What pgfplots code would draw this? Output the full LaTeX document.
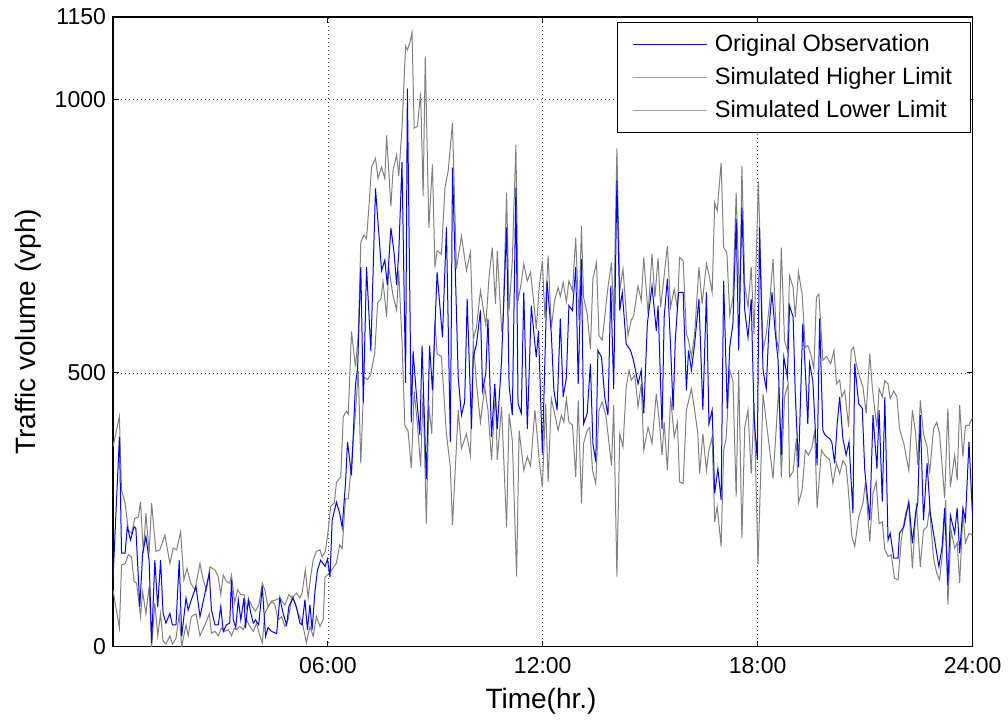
\documentclass[border=0pt]{standalone}
\usepackage{fontspec}
\setmainfont{Liberation Sans}
\usepackage{pgfplots}
\usepackage{pgfplotstable}
\pgfplotsset{compat=1.18}

\pgfplotstableread{
t v
0 122
0.18 383
0.24 171
0.34 171
0.40 219
0.49 195
0.59 219
0.64 216
0.75 73
0.83 171
0.92 201
1.01 158
1.08 7
1.17 158
1.25 73
1.33 158
1.40 61
1.48 43
1.59 61
1.66 40
1.76 40
1.85 158
1.92 19
2.04 89
2.10 67
2.19 86
2.32 110
2.43 55
2.57 98
2.69 134
2.75 67
2.85 40
2.94 40
3.01 73
3.08 28
3.17 40
3.26 43
3.31 122
3.36 49
3.43 35
3.50 86
3.57 49
3.66 89
3.70 34
3.78 86
3.85 61
3.92 43
3.98 49
4.07 40
4.17 110
4.26 19
4.33 35
4.43 28
4.57 24
4.66 89
4.75 61
4.85 40
4.91 73
5.03 89
5.12 73
5.22 43
5.28 40
5.36 86
5.43 31
5.50 77
5.56 31
5.64 101
5.71 140
5.80 158
5.92 147
5.99 160
6.06 127
6.12 231
6.24 264
6.33 244
6.40 218
6.49 296
6.55 374
6.66 313
6.77 478
6.83 508
6.92 693
6.99 446
7.08 693
7.20 540
7.33 837
7.50 687
7.59 706
7.66 661
7.76 765
7.85 719
7.92 661
7.98 719
8.07 885
8.17 482
8.22 1019
8.33 410
8.38 540
8.47 462
8.57 387
8.63 550
8.75 306
8.84 550
8.92 468
9.05 684
9.20 565
9.31 766
9.42 374
9.48 875
9.64 492
9.73 423
9.82 447
9.89 635
10.01 398
10.06 529
10.15 553
10.26 614
10.32 468
10.41 499
10.47 599
10.57 383
10.66 480
10.73 398
10.85 523
10.99 766
11.06 477
11.15 423
11.25 838
11.31 444
11.40 426
11.47 647
11.57 398
11.68 623
11.78 553
11.82 529
11.88 577
11.99 353
12.12 668
12.24 571
12.31 468
12.40 432
12.49 599
12.57 456
12.66 492
12.73 623
12.83 614
12.92 693
12.99 480
13.08 708
13.14 407
13.24 426
13.33 517
13.40 371
13.48 338
13.54 541
13.64 529
13.73 456
13.82 423
13.90 659
13.98 471
14.07 851
14.15 614
14.22 647
14.33 553
14.45 541
14.52 526
14.59 505
14.66 480
14.75 505
14.82 426
14.92 590
15.05 659
15.17 577
15.22 623
15.33 398
15.39 602
15.48 672
15.57 547
15.64 432
15.70 560
15.79 647
15.92 647
16.01 468
16.07 541
16.15 505
16.24 553
16.36 635
16.47 432
16.57 647
16.64 407
16.73 432
16.80 280
16.89 325
16.98 268
17.05 668
17.15 435
17.22 547
17.31 590
17.40 781
17.47 541
17.56 802
17.64 614
17.73 565
17.82 635
17.90 420
17.99 341
18.05 766
18.15 505
18.24 471
18.31 577
18.40 647
18.49 574
18.57 523
18.66 350
18.73 529
18.83 492
18.89 623
18.99 602
19.05 462
19.14 328
19.26 590
19.33 505
19.40 407
19.45 517
19.54 486
19.66 331
19.73 599
19.82 395
19.89 386
20.01 380
20.07 374
20.15 335
20.22 407
20.29 456
20.38 380
20.47 350
20.55 374
20.66 244
20.71 517
20.82 444
20.92 435
20.99 322
21.13 231
21.22 423
21.33 325
21.39 432
21.48 265
21.55 456
21.64 195
21.70 207
21.80 162
21.92 162
21.96 207
22.08 219
22.22 265
22.32 189
22.41 244
22.47 262
22.54 423
22.63 231
22.73 335
22.82 244
22.94 195
23.06 146
23.15 183
23.22 253
23.31 113
23.38 240
23.50 207
23.57 253
23.64 171
23.73 253
23.80 231
23.90 374
24.00 237
}\obs

\pgfplotstableread{
t v
0 365
0.18 420
0.24 286
0.34 262
0.43 213
0.52 207
0.61 234
0.71 237
0.77 265
0.85 171
0.92 244
1.01 171
1.08 262
1.20 174
1.31 177
1.45 204
1.59 152
1.68 180
1.78 177
1.89 210
1.98 122
2.07 143
2.17 116
2.29 104
2.43 152
2.52 122
2.61 104
2.71 146
2.85 140
2.94 128
3.01 95
3.08 131
3.17 119
3.26 116
3.31 131
3.40 80
3.48 104
3.57 95
3.66 95
3.73 70
3.82 83
3.89 73
3.98 65
4.07 76
4.17 116
4.24 104
4.33 73
4.43 83
4.57 86
4.66 89
4.80 76
4.91 95
5.00 89
5.12 98
5.22 89
5.28 98
5.37 140
5.45 89
5.52 128
5.59 158
5.68 174
5.78 177
5.84 164
5.93 174
6.01 213
6.08 257
6.18 262
6.24 300
6.36 310
6.43 420
6.52 430
6.57 425
6.66 576
6.77 511
6.85 570
6.92 739
7.01 752
7.08 745
7.14 797
7.22 876
7.33 892
7.40 855
7.50 876
7.59 855
7.64 934
7.76 804
7.82 870
7.92 898
7.98 860
8.07 947
8.17 1097
8.22 1090
8.29 1103
8.35 1122
8.41 947
8.50 950
8.59 1012
8.66 823
8.72 1077
8.82 765
8.92 881
8.99 693
9.05 723
9.17 717
9.27 838
9.36 869
9.48 957
9.59 690
9.73 750
9.87 687
9.98 720
10.06 562
10.15 583
10.26 650
10.41 587
10.50 675
10.59 729
10.68 626
10.73 723
10.85 580
10.89 590
10.99 829
11.06 614
11.15 705
11.25 917
11.31 632
11.40 665
11.47 699
11.57 668
11.66 684
11.78 608
11.82 580
11.90 656
11.99 705
12.06 600
12.15 714
12.24 583
12.33 632
12.43 656
12.49 640
12.57 665
12.66 630
12.73 668
12.83 650
12.92 747
13.01 596
13.08 769
13.14 638
13.24 608
13.33 544
13.40 672
13.50 702
13.57 568
13.66 560
13.76 620
13.82 656
13.92 702
13.98 596
14.07 910
14.15 650
14.24 690
14.32 620
14.38 568
14.47 596
14.54 605
14.66 659
14.75 632
14.82 711
14.94 608
15.05 717
15.13 638
15.22 710
15.29 620
15.36 660
15.48 732
15.57 620
15.67 653
15.76 617
15.82 711
15.92 705
16.01 571
16.07 560
16.15 529
16.24 571
16.36 693
16.45 626
16.57 699
16.64 680
16.73 647
16.80 811
16.87 796
16.98 884
17.05 729
17.14 720
17.22 605
17.31 638
17.40 829
17.50 620
17.56 878
17.64 662
17.73 620
17.82 693
17.90 571
18.02 850
18.15 541
18.24 571
18.33 626
18.43 708
18.52 565
18.59 540
18.66 729
18.75 559
18.83 541
18.89 678
18.99 656
19.05 602
19.14 684
19.24 644
19.33 547
19.40 550
19.48 535
19.57 508
19.64 638
19.71 644
19.82 523
19.92 530
20.04 517
20.13 541
20.20 480
20.29 487
20.35 456
20.43 468
20.54 401
20.61 541
20.68 547
20.75 517
20.85 492
20.94 474
21.03 426
21.13 535
21.20 474
21.27 432
21.33 401
21.39 471
21.48 456
21.55 486
21.64 480
21.70 453
21.80 467
21.89 456
21.96 398
22.08 371
22.22 322
22.32 432
22.41 389
22.47 332
22.54 450
22.63 389
22.73 365
22.80 316
22.91 398
23.00 410
23.08 389
23.22 271
23.31 435
23.38 292
23.50 350
23.57 304
23.64 441
23.73 347
23.80 404
23.90 404
24.00 419
}\hi

\pgfplotstableread{
t v
0 104
0.18 34
0.24 149
0.34 152
0.43 168
0.52 164
0.59 119
0.66 116
0.77 55
0.83 100
0.92 60
1.01 110
1.08 0
1.17 80
1.25 20
1.33 60
1.40 10
1.48 5
1.59 20
1.66 5
1.76 15
1.85 60
1.92 0
2.04 40
2.10 20
2.19 55
2.32 60
2.43 20
2.57 40
2.69 60
2.75 25
2.85 28
2.94 20
3.03 34
3.12 28
3.22 31
3.31 20
3.39 34
3.45 31
3.54 37
3.64 31
3.73 49
3.82 37
3.92 28
4.01 43
4.10 20
4.17 7
4.24 61
4.33 73
4.43 83
4.52 77
4.61 49
4.71 55
4.80 37
4.89 49
5.00 92
5.08 80
5.17 61
5.25 49
5.31 37
5.40 7
5.50 37
5.59 19
5.68 55
5.78 37
5.87 49
5.92 127
6.08 137
6.24 153
6.33 186
6.40 179
6.49 270
6.57 270
6.66 335
6.77 426
6.85 504
6.92 335
7.01 492
7.11 488
7.20 498
7.31 537
7.39 628
7.48 635
7.54 667
7.64 602
7.70 693
7.82 641
7.92 615
7.98 687
8.07 557
8.15 404
8.24 394
8.33 326
8.41 466
8.50 407
8.59 329
8.66 466
8.75 225
8.82 440
8.90 389
8.99 596
9.05 535
9.17 530
9.31 389
9.42 328
9.48 222
9.64 432
9.73 362
9.87 389
9.98 350
10.06 559
10.15 480
10.26 410
10.38 474
10.47 432
10.57 341
10.68 468
10.73 341
10.85 438
10.99 219
11.06 426
11.15 377
11.27 128
11.34 395
11.47 322
11.57 347
11.66 330
11.78 432
11.84 389
11.90 341
11.99 292
12.08 444
12.15 301
12.24 453
12.33 426
12.43 395
12.52 423
12.59 410
12.66 453
12.73 410
12.83 405
12.92 310
12.99 450
13.08 262
13.14 371
13.24 395
13.31 400
13.39 322
13.48 298
13.57 432
13.66 447
13.76 423
13.82 389
13.92 331
13.98 441
14.07 128
14.15 389
14.24 365
14.33 474
14.41 505
14.47 487
14.57 496
14.66 438
14.75 480
14.82 359
14.94 401
15.05 371
15.17 462
15.26 407
15.33 350
15.39 410
15.48 322
15.57 456
15.67 383
15.76 410
15.82 301
15.92 298
16.01 432
16.15 471
16.24 432
16.33 389
16.38 316
16.47 389
16.57 322
16.64 359
16.73 383
16.80 228
16.87 256
16.98 183
17.05 359
17.12 380
17.22 505
17.31 486
17.40 274
17.47 505
17.56 198
17.64 401
17.73 432
17.82 316
17.90 444
18.01 150
18.15 462
18.27 395
18.43 307
18.52 401
18.59 474
18.66 309
18.75 456
18.85 480
18.89 310
18.99 320
19.08 380
19.14 262
19.24 286
19.33 359
19.42 350
19.52 365
19.59 395
19.66 253
19.78 359
19.87 350
20.01 341
20.10 298
20.20 335
20.29 316
20.38 340
20.47 330
20.54 280
20.63 201
20.71 183
20.82 237
20.94 262
21.01 301
21.13 192
21.22 280
21.31 301
21.39 225
21.48 228
21.55 177
21.64 165
21.73 168
21.82 125
21.92 122
22.01 195
22.13 244
22.22 259
22.32 143
22.43 262
22.54 146
22.63 213
22.73 219
22.80 253
22.91 162
23.00 134
23.08 122
23.15 165
23.25 268
23.31 77
23.40 213
23.50 180
23.57 190
23.64 116
23.73 244
23.80 190
23.90 207
24.00 204
}\lo

\begin{document}
\begin{tikzpicture}
\begin{axis}[
  name=ax,
  width=430pt, height=315pt, scale only axis,
  xmin=0, xmax=24, ymin=0, ymax=1150,
  xtick={6,12,18,24}, xticklabels={06:00,12:00,18:00,24:00},
  ytick={0,500,1000,1150},
  scaled ticks=false,
  /pgf/number format/1000 sep={},
  /pgf/number format/assume math mode=true,
  grid=major,
  grid style={black!75, line width=0.35pt, dash pattern=on 0.6pt off 1.4pt},
  tick align=inside, major tick length=3pt,
  axis line style={line width=0.6pt},
  every tick/.style={black, line width=0.5pt},
  tick label style={font=\fontsize{11.5}{13}\selectfont},
  xticklabel style={yshift=-2pt},
  label style={font=\fontsize{14}{16}\selectfont},
  xlabel={Time(hr.)}, ylabel={Traffic volume (vph)},
  xlabel style={at={(axis description cs:0.498,-0.0873)}, anchor=center},
  ylabel style={at={(axis description cs:-0.0988,0.5)}, anchor=center},
  legend style={at={(axis description cs:1,1)}, anchor=north east,
    xshift=-1pt, yshift=-2.5pt, draw=black, line width=0.5pt, fill=white,
    font=\fontsize{11.8}{14}\selectfont, cells={anchor=west},
    inner xsep=7.5pt, inner ysep=4.5pt, nodes={inner sep=1.5pt},
    row sep=3.5pt, column sep=2pt},
  legend image code/.code={\draw[#1] (0pt,0pt) -- (37pt,0pt);},
]
\addlegendimage{draw=blue, line width=0.5pt}
\addlegendentry{Original Observation}
\addlegendimage{draw=gray!75, line width=0.5pt}
\addlegendentry{Simulated Higher Limit}
\addlegendimage{draw=gray!75, line width=0.5pt}
\addlegendentry{Simulated Lower Limit}
\addplot[gray, line width=0.5pt, forget plot] table[x=t, y=v] {\hi};
\addplot[gray, line width=0.5pt, forget plot] table[x=t, y=v] {\lo};
\addplot[blue, line width=0.5pt, forget plot] table[x=t, y=v] {\obs};
\end{axis}
\path ([shift={(-56.5pt,-39pt)}]ax.south west) rectangle ([shift={(17.5pt,8.5pt)}]ax.north east);
\end{tikzpicture}
\end{document}
